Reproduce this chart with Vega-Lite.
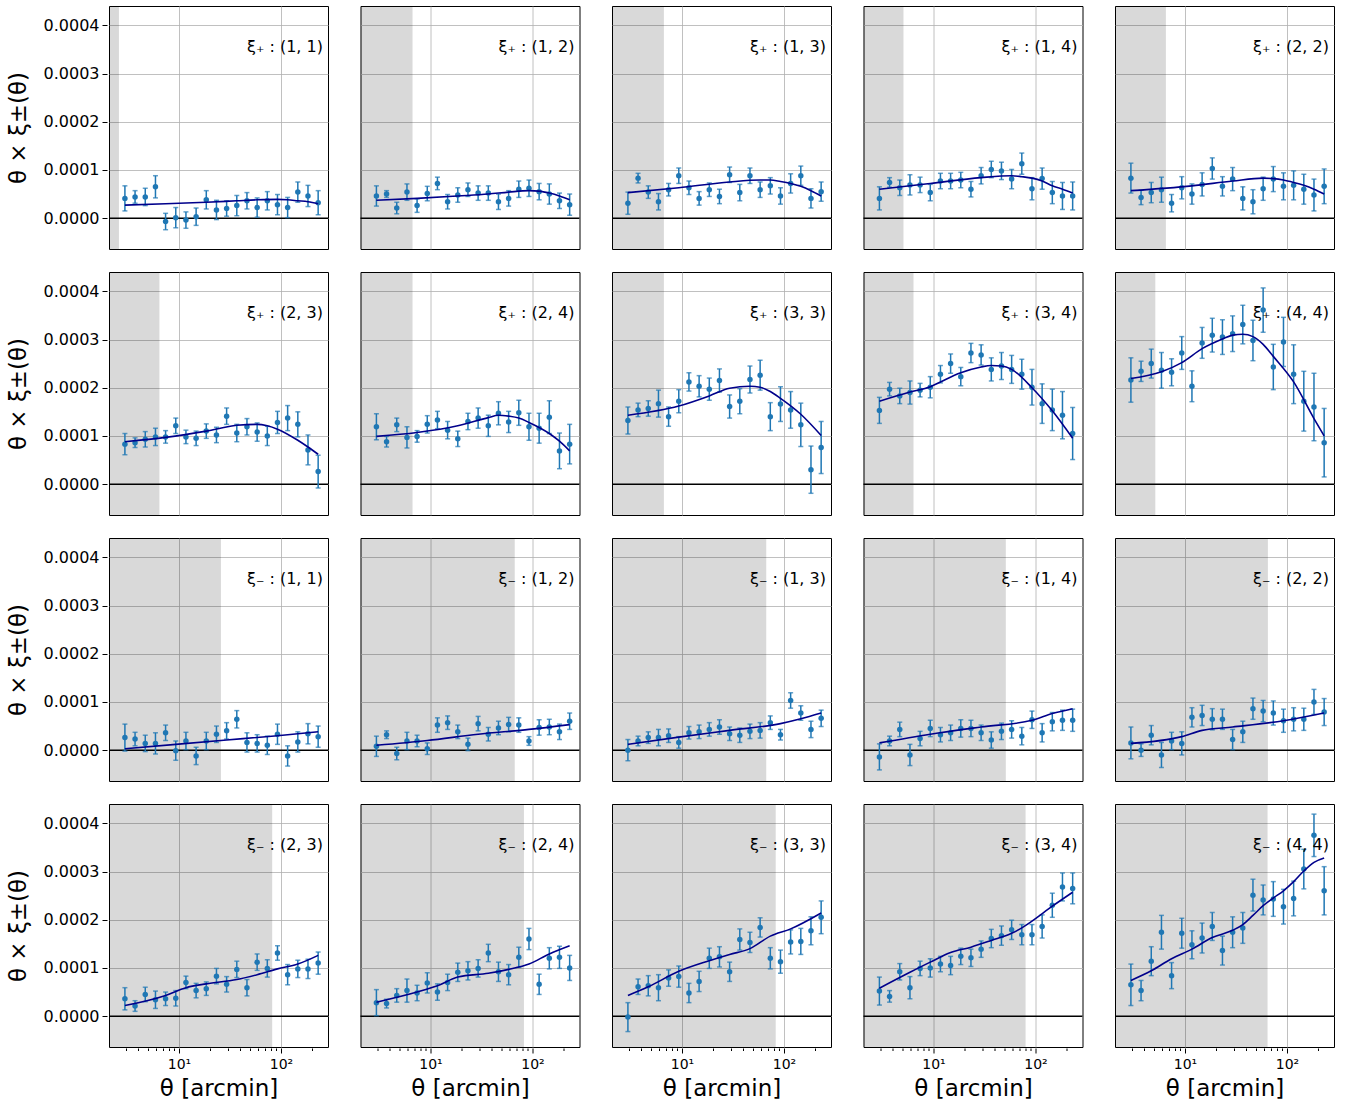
{
"$schema":"https://vega.github.io/schema/vega-lite/v6.json",
"padding":{"left":7,"top":4,"right":5,"bottom":5},
"background":"white",
"data":{"values":[
{"p":1,"k":"s","sx":2.58,"t":"ξ₊ : (1, 1)"},
{"p":2,"k":"s","sx":6.67,"t":"ξ₊ : (1, 2)"},
{"p":3,"k":"s","sx":6.65,"t":"ξ₊ : (1, 3)"},
{"p":4,"k":"s","sx":5.08,"t":"ξ₊ : (1, 4)"},
{"p":5,"k":"s","sx":6.5,"t":"ξ₊ : (2, 2)"},
{"p":6,"k":"s","sx":6.43,"t":"ξ₊ : (2, 3)"},
{"p":7,"k":"s","sx":6.67,"t":"ξ₊ : (2, 4)"},
{"p":8,"k":"s","sx":6.65,"t":"ξ₊ : (3, 3)"},
{"p":9,"k":"s","sx":6.37,"t":"ξ₊ : (3, 4)"},
{"p":10,"k":"s","sx":5.12,"t":"ξ₊ : (4, 4)"},
{"p":11,"k":"s","sx":25.8,"t":"ξ₋ : (1, 1)"},
{"p":12,"k":"s","sx":67,"t":"ξ₋ : (1, 2)"},
{"p":13,"k":"s","sx":67,"t":"ξ₋ : (1, 3)"},
{"p":14,"k":"s","sx":51.2,"t":"ξ₋ : (1, 4)"},
{"p":15,"k":"s","sx":65,"t":"ξ₋ : (2, 2)"},
{"p":16,"k":"s","sx":82,"t":"ξ₋ : (2, 3)"},
{"p":17,"k":"s","sx":82.5,"t":"ξ₋ : (2, 4)"},
{"p":18,"k":"s","sx":83,"t":"ξ₋ : (3, 3)"},
{"p":19,"k":"s","sx":80,"t":"ξ₋ : (3, 4)"},
{"p":20,"k":"s","sx":64.5,"t":"ξ₋ : (4, 4)"},

{"p":1,"k":"d","x":2.95,"y":4.1e-5,"e":2.6e-5},{"p":1,"k":"d","x":3.71,"y":4.4e-5,"e":1.3e-5},{"p":1,"k":"d","x":4.67,"y":4.4e-5,"e":1.8e-5},{"p":1,"k":"d","x":5.88,"y":6.5e-5,"e":2.3e-5},{"p":1,"k":"d","x":7.39,"y":-0.7e-5,"e":1.7e-5},{"p":1,"k":"d","x":9.3,"y":0.1e-5,"e":2.1e-5},{"p":1,"k":"d","x":11.7,"y":-0.4e-5,"e":1.7e-5},{"p":1,"k":"d","x":14.72,"y":0.3e-5,"e":1.8e-5},{"p":1,"k":"d","x":18.52,"y":3.8e-5,"e":1.9e-5},{"p":1,"k":"d","x":23.3,"y":1.7e-5,"e":2.0e-5},{"p":1,"k":"d","x":29.31,"y":2.0e-5,"e":1.6e-5},{"p":1,"k":"d","x":36.88,"y":2.6e-5,"e":2.1e-5},{"p":1,"k":"d","x":46.39,"y":3.6e-5,"e":1.7e-5},{"p":1,"k":"d","x":58.37,"y":2.2e-5,"e":2.0e-5},{"p":1,"k":"d","x":73.43,"y":3.6e-5,"e":1.9e-5},{"p":1,"k":"d","x":92.38,"y":2.8e-5,"e":2.1e-5},{"p":1,"k":"d","x":116.2,"y":2.2e-5,"e":2.1e-5},{"p":1,"k":"d","x":146.2,"y":5.4e-5,"e":2.1e-5},{"p":1,"k":"d","x":183.9,"y":4.6e-5,"e":2.2e-5},{"p":1,"k":"d","x":231.4,"y":3.2e-5,"e":2.5e-5},
{"p":2,"k":"d","x":2.95,"y":4.6e-5,"e":2.1e-5},{"p":2,"k":"d","x":3.71,"y":5.0e-5,"e":0.7e-5},{"p":2,"k":"d","x":4.67,"y":2.1e-5,"e":1.2e-5},{"p":2,"k":"d","x":5.88,"y":5.4e-5,"e":1.7e-5},{"p":2,"k":"d","x":7.39,"y":2.6e-5,"e":1.4e-5},{"p":2,"k":"d","x":9.3,"y":5.1e-5,"e":1.5e-5},{"p":2,"k":"d","x":11.7,"y":7.2e-5,"e":1.3e-5},{"p":2,"k":"d","x":14.72,"y":3.4e-5,"e":1.5e-5},{"p":2,"k":"d","x":18.52,"y":4.8e-5,"e":1.5e-5},{"p":2,"k":"d","x":23.3,"y":5.9e-5,"e":1.4e-5},{"p":2,"k":"d","x":29.31,"y":5.2e-5,"e":1.5e-5},{"p":2,"k":"d","x":36.88,"y":5.2e-5,"e":1.5e-5},{"p":2,"k":"d","x":46.39,"y":3.4e-5,"e":1.6e-5},{"p":2,"k":"d","x":58.37,"y":4.1e-5,"e":1.6e-5},{"p":2,"k":"d","x":73.43,"y":6.0e-5,"e":1.7e-5},{"p":2,"k":"d","x":92.38,"y":6.2e-5,"e":1.7e-5},{"p":2,"k":"d","x":116.2,"y":5.5e-5,"e":1.7e-5},{"p":2,"k":"d","x":146.2,"y":5.0e-5,"e":2.1e-5},{"p":2,"k":"d","x":183.9,"y":3.6e-5,"e":1.6e-5},{"p":2,"k":"d","x":231.4,"y":2.8e-5,"e":2.2e-5},
{"p":3,"k":"d","x":2.95,"y":3.1e-5,"e":2.3e-5},{"p":3,"k":"d","x":3.71,"y":8.3e-5,"e":1.0e-5},{"p":3,"k":"d","x":4.67,"y":5.4e-5,"e":1.3e-5},{"p":3,"k":"d","x":5.88,"y":3.4e-5,"e":1.7e-5},{"p":3,"k":"d","x":7.39,"y":5.9e-5,"e":1.3e-5},{"p":3,"k":"d","x":9.3,"y":8.8e-5,"e":1.6e-5},{"p":3,"k":"d","x":11.7,"y":6.3e-5,"e":1.4e-5},{"p":3,"k":"d","x":14.72,"y":4.1e-5,"e":1.4e-5},{"p":3,"k":"d","x":18.52,"y":5.9e-5,"e":1.4e-5},{"p":3,"k":"d","x":23.3,"y":4.5e-5,"e":1.5e-5},{"p":3,"k":"d","x":29.31,"y":9.0e-5,"e":1.6e-5},{"p":3,"k":"d","x":36.88,"y":5.3e-5,"e":1.7e-5},{"p":3,"k":"d","x":46.39,"y":8.8e-5,"e":1.6e-5},{"p":3,"k":"d","x":58.37,"y":5.9e-5,"e":1.6e-5},{"p":3,"k":"d","x":73.43,"y":6.7e-5,"e":1.7e-5},{"p":3,"k":"d","x":92.38,"y":4.6e-5,"e":1.7e-5},{"p":3,"k":"d","x":116.2,"y":7.2e-5,"e":2.0e-5},{"p":3,"k":"d","x":146.2,"y":8.8e-5,"e":2.0e-5},{"p":3,"k":"d","x":183.9,"y":4.1e-5,"e":2.0e-5},{"p":3,"k":"d","x":231.4,"y":5.5e-5,"e":2.0e-5},
{"p":4,"k":"d","x":2.95,"y":4.1e-5,"e":2.4e-5},{"p":4,"k":"d","x":3.71,"y":7.4e-5,"e":1.0e-5},{"p":4,"k":"d","x":4.67,"y":6.3e-5,"e":1.6e-5},{"p":4,"k":"d","x":5.88,"y":6.9e-5,"e":2.1e-5},{"p":4,"k":"d","x":7.39,"y":6.9e-5,"e":1.6e-5},{"p":4,"k":"d","x":9.3,"y":5.3e-5,"e":1.7e-5},{"p":4,"k":"d","x":11.7,"y":7.7e-5,"e":1.6e-5},{"p":4,"k":"d","x":14.72,"y":7.7e-5,"e":1.6e-5},{"p":4,"k":"d","x":18.52,"y":7.9e-5,"e":1.6e-5},{"p":4,"k":"d","x":23.3,"y":6.0e-5,"e":1.6e-5},{"p":4,"k":"d","x":29.31,"y":8.8e-5,"e":1.7e-5},{"p":4,"k":"d","x":36.88,"y":10.1e-5,"e":1.7e-5},{"p":4,"k":"d","x":46.39,"y":9.8e-5,"e":1.8e-5},{"p":4,"k":"d","x":58.37,"y":8.1e-5,"e":2.0e-5},{"p":4,"k":"d","x":73.43,"y":11.3e-5,"e":2.2e-5},{"p":4,"k":"d","x":92.38,"y":6.1e-5,"e":2.3e-5},{"p":4,"k":"d","x":116.2,"y":8.2e-5,"e":2.2e-5},{"p":4,"k":"d","x":146.2,"y":5.3e-5,"e":2.3e-5},{"p":4,"k":"d","x":183.9,"y":4.6e-5,"e":2.8e-5},{"p":4,"k":"d","x":231.4,"y":4.6e-5,"e":2.9e-5},
{"p":5,"k":"d","x":2.95,"y":8.3e-5,"e":3.1e-5},{"p":5,"k":"d","x":3.71,"y":4.3e-5,"e":1.5e-5},{"p":5,"k":"d","x":4.67,"y":5.3e-5,"e":2.1e-5},{"p":5,"k":"d","x":5.88,"y":5.9e-5,"e":2.6e-5},{"p":5,"k":"d","x":7.39,"y":3.1e-5,"e":1.8e-5},{"p":5,"k":"d","x":9.3,"y":6.3e-5,"e":2.3e-5},{"p":5,"k":"d","x":11.7,"y":5.0e-5,"e":2.1e-5},{"p":5,"k":"d","x":14.72,"y":7.0e-5,"e":2.4e-5},{"p":5,"k":"d","x":18.52,"y":10.3e-5,"e":2.2e-5},{"p":5,"k":"d","x":23.3,"y":6.6e-5,"e":2.0e-5},{"p":5,"k":"d","x":29.31,"y":8.1e-5,"e":2.4e-5},{"p":5,"k":"d","x":36.88,"y":4.1e-5,"e":2.4e-5},{"p":5,"k":"d","x":46.39,"y":3.4e-5,"e":2.5e-5},{"p":5,"k":"d","x":58.37,"y":6.1e-5,"e":2.4e-5},{"p":5,"k":"d","x":73.43,"y":8.1e-5,"e":2.6e-5},{"p":5,"k":"d","x":92.38,"y":6.6e-5,"e":2.8e-5},{"p":5,"k":"d","x":116.2,"y":6.8e-5,"e":3.0e-5},{"p":5,"k":"d","x":146.2,"y":6.0e-5,"e":3.1e-5},{"p":5,"k":"d","x":183.9,"y":4.8e-5,"e":3.3e-5},{"p":5,"k":"d","x":231.4,"y":6.6e-5,"e":3.6e-5},
{"p":6,"k":"d","x":2.95,"y":8.3e-5,"e":2.2e-5},{"p":6,"k":"d","x":3.71,"y":8.6e-5,"e":1.0e-5},{"p":6,"k":"d","x":4.67,"y":9.3e-5,"e":1.6e-5},{"p":6,"k":"d","x":5.88,"y":9.8e-5,"e":1.8e-5},{"p":6,"k":"d","x":7.39,"y":9.8e-5,"e":1.3e-5},{"p":6,"k":"d","x":9.3,"y":12.1e-5,"e":1.6e-5},{"p":6,"k":"d","x":11.7,"y":9.8e-5,"e":1.4e-5},{"p":6,"k":"d","x":14.72,"y":9.5e-5,"e":1.5e-5},{"p":6,"k":"d","x":18.52,"y":11.0e-5,"e":1.5e-5},{"p":6,"k":"d","x":23.3,"y":10.2e-5,"e":1.6e-5},{"p":6,"k":"d","x":29.31,"y":14.1e-5,"e":1.7e-5},{"p":6,"k":"d","x":36.88,"y":10.6e-5,"e":1.8e-5},{"p":6,"k":"d","x":46.39,"y":11.9e-5,"e":1.7e-5},{"p":6,"k":"d","x":58.37,"y":10.8e-5,"e":1.9e-5},{"p":6,"k":"d","x":73.43,"y":10.0e-5,"e":2.0e-5},{"p":6,"k":"d","x":92.38,"y":12.8e-5,"e":2.3e-5},{"p":6,"k":"d","x":116.2,"y":13.7e-5,"e":2.6e-5},{"p":6,"k":"d","x":146.2,"y":12.4e-5,"e":2.6e-5},{"p":6,"k":"d","x":183.9,"y":7.1e-5,"e":3.1e-5},{"p":6,"k":"d","x":231.4,"y":2.6e-5,"e":3.4e-5},
{"p":7,"k":"d","x":2.95,"y":11.9e-5,"e":2.7e-5},{"p":7,"k":"d","x":3.71,"y":8.8e-5,"e":1.1e-5},{"p":7,"k":"d","x":4.67,"y":12.3e-5,"e":1.4e-5},{"p":7,"k":"d","x":5.88,"y":9.7e-5,"e":2.2e-5},{"p":7,"k":"d","x":7.39,"y":9.9e-5,"e":1.2e-5},{"p":7,"k":"d","x":9.3,"y":12.4e-5,"e":1.8e-5},{"p":7,"k":"d","x":11.7,"y":13.3e-5,"e":1.8e-5},{"p":7,"k":"d","x":14.72,"y":11.2e-5,"e":1.8e-5},{"p":7,"k":"d","x":18.52,"y":9.4e-5,"e":1.6e-5},{"p":7,"k":"d","x":23.3,"y":13.0e-5,"e":1.7e-5},{"p":7,"k":"d","x":29.31,"y":13.7e-5,"e":2.1e-5},{"p":7,"k":"d","x":36.88,"y":12.1e-5,"e":2.2e-5},{"p":7,"k":"d","x":46.39,"y":14.7e-5,"e":2.4e-5},{"p":7,"k":"d","x":58.37,"y":12.9e-5,"e":2.2e-5},{"p":7,"k":"d","x":73.43,"y":14.8e-5,"e":2.6e-5},{"p":7,"k":"d","x":92.38,"y":11.9e-5,"e":2.8e-5},{"p":7,"k":"d","x":116.2,"y":11.6e-5,"e":3.1e-5},{"p":7,"k":"d","x":146.2,"y":13.9e-5,"e":3.4e-5},{"p":7,"k":"d","x":183.9,"y":6.9e-5,"e":3.7e-5},{"p":7,"k":"d","x":231.4,"y":8.3e-5,"e":4.1e-5},
{"p":8,"k":"d","x":2.95,"y":13.2e-5,"e":2.8e-5},{"p":8,"k":"d","x":3.71,"y":15.4e-5,"e":1.4e-5},{"p":8,"k":"d","x":4.67,"y":15.7e-5,"e":1.6e-5},{"p":8,"k":"d","x":5.88,"y":16.7e-5,"e":2.8e-5},{"p":8,"k":"d","x":7.39,"y":14.0e-5,"e":2.0e-5},{"p":8,"k":"d","x":9.3,"y":17.2e-5,"e":2.4e-5},{"p":8,"k":"d","x":11.7,"y":21.2e-5,"e":1.9e-5},{"p":8,"k":"d","x":14.72,"y":20.3e-5,"e":2.2e-5},{"p":8,"k":"d","x":18.52,"y":19.7e-5,"e":2.3e-5},{"p":8,"k":"d","x":23.3,"y":21.5e-5,"e":2.4e-5},{"p":8,"k":"d","x":29.31,"y":16.1e-5,"e":2.4e-5},{"p":8,"k":"d","x":36.88,"y":17.2e-5,"e":2.6e-5},{"p":8,"k":"d","x":46.39,"y":21.7e-5,"e":2.8e-5},{"p":8,"k":"d","x":58.37,"y":22.6e-5,"e":3.1e-5},{"p":8,"k":"d","x":73.43,"y":14.0e-5,"e":2.9e-5},{"p":8,"k":"d","x":92.38,"y":16.6e-5,"e":3.6e-5},{"p":8,"k":"d","x":116.2,"y":15.4e-5,"e":3.8e-5},{"p":8,"k":"d","x":146.2,"y":12.3e-5,"e":4.5e-5},{"p":8,"k":"d","x":183.9,"y":3.0e-5,"e":4.9e-5},{"p":8,"k":"d","x":231.4,"y":7.6e-5,"e":5.4e-5},
{"p":9,"k":"d","x":2.95,"y":15.3e-5,"e":2.7e-5},{"p":9,"k":"d","x":3.71,"y":19.7e-5,"e":1.4e-5},{"p":9,"k":"d","x":4.67,"y":18.3e-5,"e":1.6e-5},{"p":9,"k":"d","x":5.88,"y":19.0e-5,"e":2.4e-5},{"p":9,"k":"d","x":7.39,"y":19.5e-5,"e":1.4e-5},{"p":9,"k":"d","x":9.3,"y":20.1e-5,"e":2.2e-5},{"p":9,"k":"d","x":11.7,"y":22.8e-5,"e":1.8e-5},{"p":9,"k":"d","x":14.72,"y":25.0e-5,"e":2.0e-5},{"p":9,"k":"d","x":18.52,"y":22.3e-5,"e":1.9e-5},{"p":9,"k":"d","x":23.3,"y":27.2e-5,"e":2.0e-5},{"p":9,"k":"d","x":29.31,"y":26.8e-5,"e":2.1e-5},{"p":9,"k":"d","x":36.88,"y":23.8e-5,"e":2.4e-5},{"p":9,"k":"d","x":46.39,"y":24.5e-5,"e":2.8e-5},{"p":9,"k":"d","x":58.37,"y":23.8e-5,"e":2.9e-5},{"p":9,"k":"d","x":73.43,"y":22.8e-5,"e":3.1e-5},{"p":9,"k":"d","x":92.38,"y":20.1e-5,"e":3.7e-5},{"p":9,"k":"d","x":116.2,"y":16.7e-5,"e":4.1e-5},{"p":9,"k":"d","x":146.2,"y":15.4e-5,"e":4.3e-5},{"p":9,"k":"d","x":183.9,"y":14.3e-5,"e":4.9e-5},{"p":9,"k":"d","x":231.4,"y":10.5e-5,"e":5.4e-5},
{"p":10,"k":"d","x":2.95,"y":21.6e-5,"e":4.6e-5},{"p":10,"k":"d","x":3.71,"y":23.4e-5,"e":2.1e-5},{"p":10,"k":"d","x":4.67,"y":25.0e-5,"e":3.0e-5},{"p":10,"k":"d","x":5.88,"y":23.6e-5,"e":3.7e-5},{"p":10,"k":"d","x":7.39,"y":23.2e-5,"e":2.8e-5},{"p":10,"k":"d","x":9.3,"y":27.2e-5,"e":3.4e-5},{"p":10,"k":"d","x":11.7,"y":20.3e-5,"e":3.2e-5},{"p":10,"k":"d","x":14.72,"y":29.3e-5,"e":3.2e-5},{"p":10,"k":"d","x":18.52,"y":30.9e-5,"e":3.5e-5},{"p":10,"k":"d","x":23.3,"y":30.5e-5,"e":3.6e-5},{"p":10,"k":"d","x":29.31,"y":31.2e-5,"e":3.7e-5},{"p":10,"k":"d","x":36.88,"y":33.1e-5,"e":4.0e-5},{"p":10,"k":"d","x":46.39,"y":29.8e-5,"e":4.2e-5},{"p":10,"k":"d","x":58.37,"y":36.1e-5,"e":4.6e-5},{"p":10,"k":"d","x":73.43,"y":24.3e-5,"e":4.7e-5},{"p":10,"k":"d","x":92.38,"y":29.5e-5,"e":5.1e-5},{"p":10,"k":"d","x":116.2,"y":22.8e-5,"e":6.1e-5},{"p":10,"k":"d","x":146.2,"y":17.2e-5,"e":6.2e-5},{"p":10,"k":"d","x":183.9,"y":16.0e-5,"e":7.0e-5},{"p":10,"k":"d","x":231.4,"y":8.6e-5,"e":7.1e-5},
{"p":11,"k":"d","x":2.95,"y":2.6e-5,"e":2.8e-5},{"p":11,"k":"d","x":3.71,"y":2.3e-5,"e":1.4e-5},{"p":11,"k":"d","x":4.67,"y":1.4e-5,"e":1.7e-5},{"p":11,"k":"d","x":5.88,"y":1.4e-5,"e":2.2e-5},{"p":11,"k":"d","x":7.39,"y":3.6e-5,"e":1.6e-5},{"p":11,"k":"d","x":9.3,"y":-0.1e-5,"e":2.0e-5},{"p":11,"k":"d","x":11.7,"y":1.9e-5,"e":1.8e-5},{"p":11,"k":"d","x":14.72,"y":-1.2e-5,"e":1.8e-5},{"p":11,"k":"d","x":18.52,"y":1.9e-5,"e":1.8e-5},{"p":11,"k":"d","x":23.3,"y":3.3e-5,"e":1.7e-5},{"p":11,"k":"d","x":29.31,"y":4.0e-5,"e":1.7e-5},{"p":11,"k":"d","x":36.88,"y":6.4e-5,"e":1.8e-5},{"p":11,"k":"d","x":46.39,"y":1.6e-5,"e":2.0e-5},{"p":11,"k":"d","x":58.37,"y":1.4e-5,"e":1.8e-5},{"p":11,"k":"d","x":73.43,"y":1.0e-5,"e":1.9e-5},{"p":11,"k":"d","x":92.38,"y":3.3e-5,"e":2.1e-5},{"p":11,"k":"d","x":116.2,"y":-1.2e-5,"e":2.1e-5},{"p":11,"k":"d","x":146.2,"y":1.7e-5,"e":2.1e-5},{"p":11,"k":"d","x":183.9,"y":3.4e-5,"e":2.1e-5},{"p":11,"k":"d","x":231.4,"y":2.8e-5,"e":2.2e-5},
{"p":12,"k":"d","x":2.95,"y":0.8e-5,"e":2.1e-5},{"p":12,"k":"d","x":3.71,"y":3.2e-5,"e":0.8e-5},{"p":12,"k":"d","x":4.67,"y":-0.7e-5,"e":1.3e-5},{"p":12,"k":"d","x":5.88,"y":1.9e-5,"e":1.8e-5},{"p":12,"k":"d","x":7.39,"y":1.9e-5,"e":1.2e-5},{"p":12,"k":"d","x":9.3,"y":0.3e-5,"e":1.2e-5},{"p":12,"k":"d","x":11.7,"y":5.2e-5,"e":1.5e-5},{"p":12,"k":"d","x":14.72,"y":5.7e-5,"e":1.4e-5},{"p":12,"k":"d","x":18.52,"y":3.8e-5,"e":1.4e-5},{"p":12,"k":"d","x":23.3,"y":1.2e-5,"e":1.3e-5},{"p":12,"k":"d","x":29.31,"y":5.5e-5,"e":1.5e-5},{"p":12,"k":"d","x":36.88,"y":3.3e-5,"e":1.4e-5},{"p":12,"k":"d","x":46.39,"y":4.6e-5,"e":1.4e-5},{"p":12,"k":"d","x":58.37,"y":5.3e-5,"e":1.5e-5},{"p":12,"k":"d","x":73.43,"y":5.2e-5,"e":1.5e-5},{"p":12,"k":"d","x":92.38,"y":1.9e-5,"e":0.9e-5},{"p":12,"k":"d","x":116.2,"y":4.7e-5,"e":1.6e-5},{"p":12,"k":"d","x":146.2,"y":4.8e-5,"e":1.6e-5},{"p":12,"k":"d","x":183.9,"y":3.8e-5,"e":1.6e-5},{"p":12,"k":"d","x":231.4,"y":6.0e-5,"e":1.7e-5},
{"p":13,"k":"d","x":2.95,"y":0,"e":2.2e-5},{"p":13,"k":"d","x":3.71,"y":1.9e-5,"e":1.0e-5},{"p":13,"k":"d","x":4.67,"y":2.6e-5,"e":1.2e-5},{"p":13,"k":"d","x":5.88,"y":2.6e-5,"e":1.7e-5},{"p":13,"k":"d","x":7.39,"y":3.0e-5,"e":1.4e-5},{"p":13,"k":"d","x":9.3,"y":1.6e-5,"e":1.2e-5},{"p":13,"k":"d","x":11.7,"y":3.6e-5,"e":1.3e-5},{"p":13,"k":"d","x":14.72,"y":3.8e-5,"e":1.4e-5},{"p":13,"k":"d","x":18.52,"y":4.3e-5,"e":1.4e-5},{"p":13,"k":"d","x":23.3,"y":4.8e-5,"e":1.5e-5},{"p":13,"k":"d","x":29.31,"y":3.4e-5,"e":1.4e-5},{"p":13,"k":"d","x":36.88,"y":3.1e-5,"e":1.5e-5},{"p":13,"k":"d","x":46.39,"y":3.9e-5,"e":1.5e-5},{"p":13,"k":"d","x":58.37,"y":4.1e-5,"e":1.6e-5},{"p":13,"k":"d","x":73.43,"y":5.7e-5,"e":1.4e-5},{"p":13,"k":"d","x":92.38,"y":3.2e-5,"e":1.1e-5},{"p":13,"k":"d","x":116.2,"y":10.3e-5,"e":1.6e-5},{"p":13,"k":"d","x":146.2,"y":7.7e-5,"e":1.5e-5},{"p":13,"k":"d","x":183.9,"y":4.3e-5,"e":1.7e-5},{"p":13,"k":"d","x":231.4,"y":6.6e-5,"e":1.7e-5},
{"p":14,"k":"d","x":2.95,"y":-1.4e-5,"e":2.7e-5},{"p":14,"k":"d","x":3.71,"y":1.9e-5,"e":1.0e-5},{"p":14,"k":"d","x":4.67,"y":4.3e-5,"e":1.5e-5},{"p":14,"k":"d","x":5.88,"y":-1.0e-5,"e":2.2e-5},{"p":14,"k":"d","x":7.39,"y":2.4e-5,"e":1.5e-5},{"p":14,"k":"d","x":9.3,"y":4.5e-5,"e":1.7e-5},{"p":14,"k":"d","x":11.7,"y":3.2e-5,"e":1.5e-5},{"p":14,"k":"d","x":14.72,"y":3.6e-5,"e":1.6e-5},{"p":14,"k":"d","x":18.52,"y":4.5e-5,"e":1.8e-5},{"p":14,"k":"d","x":23.3,"y":4.5e-5,"e":1.7e-5},{"p":14,"k":"d","x":29.31,"y":3.6e-5,"e":1.6e-5},{"p":14,"k":"d","x":36.88,"y":2.1e-5,"e":1.7e-5},{"p":14,"k":"d","x":46.39,"y":3.9e-5,"e":1.7e-5},{"p":14,"k":"d","x":58.37,"y":4.3e-5,"e":1.8e-5},{"p":14,"k":"d","x":73.43,"y":2.9e-5,"e":1.8e-5},{"p":14,"k":"d","x":92.38,"y":6.3e-5,"e":1.8e-5},{"p":14,"k":"d","x":116.2,"y":3.6e-5,"e":1.9e-5},{"p":14,"k":"d","x":146.2,"y":5.9e-5,"e":1.9e-5},{"p":14,"k":"d","x":183.9,"y":6.2e-5,"e":2.1e-5},{"p":14,"k":"d","x":231.4,"y":6.2e-5,"e":2.3e-5},
{"p":15,"k":"d","x":2.95,"y":1.5e-5,"e":3.3e-5},{"p":15,"k":"d","x":3.71,"y":0,"e":1.3e-5},{"p":15,"k":"d","x":4.67,"y":3.1e-5,"e":2.0e-5},{"p":15,"k":"d","x":5.88,"y":-1.0e-5,"e":2.6e-5},{"p":15,"k":"d","x":7.39,"y":1.9e-5,"e":1.8e-5},{"p":15,"k":"d","x":9.3,"y":1.4e-5,"e":2.4e-5},{"p":15,"k":"d","x":11.7,"y":6.8e-5,"e":2.0e-5},{"p":15,"k":"d","x":14.72,"y":7.2e-5,"e":2.1e-5},{"p":15,"k":"d","x":18.52,"y":6.4e-5,"e":2.2e-5},{"p":15,"k":"d","x":23.3,"y":6.4e-5,"e":2.1e-5},{"p":15,"k":"d","x":29.31,"y":2.2e-5,"e":2.1e-5},{"p":15,"k":"d","x":36.88,"y":3.8e-5,"e":2.2e-5},{"p":15,"k":"d","x":46.39,"y":8.6e-5,"e":2.2e-5},{"p":15,"k":"d","x":58.37,"y":8.1e-5,"e":2.2e-5},{"p":15,"k":"d","x":73.43,"y":7.7e-5,"e":2.5e-5},{"p":15,"k":"d","x":92.38,"y":6.1e-5,"e":2.4e-5},{"p":15,"k":"d","x":116.2,"y":6.4e-5,"e":2.4e-5},{"p":15,"k":"d","x":146.2,"y":6.4e-5,"e":2.3e-5},{"p":15,"k":"d","x":183.9,"y":10.0e-5,"e":2.6e-5},{"p":15,"k":"d","x":231.4,"y":7.9e-5,"e":2.8e-5},
{"p":16,"k":"d","x":2.95,"y":3.6e-5,"e":2.3e-5},{"p":16,"k":"d","x":3.71,"y":2.1e-5,"e":1.1e-5},{"p":16,"k":"d","x":4.67,"y":4.5e-5,"e":1.5e-5},{"p":16,"k":"d","x":5.88,"y":3.4e-5,"e":1.8e-5},{"p":16,"k":"d","x":7.39,"y":3.6e-5,"e":1.4e-5},{"p":16,"k":"d","x":9.3,"y":3.7e-5,"e":1.6e-5},{"p":16,"k":"d","x":11.7,"y":7.0e-5,"e":1.3e-5},{"p":16,"k":"d","x":14.72,"y":5.3e-5,"e":1.5e-5},{"p":16,"k":"d","x":18.52,"y":5.7e-5,"e":1.4e-5},{"p":16,"k":"d","x":23.3,"y":8.3e-5,"e":1.6e-5},{"p":16,"k":"d","x":29.31,"y":6.6e-5,"e":1.6e-5},{"p":16,"k":"d","x":36.88,"y":9.7e-5,"e":1.7e-5},{"p":16,"k":"d","x":46.39,"y":5.9e-5,"e":1.7e-5},{"p":16,"k":"d","x":58.37,"y":11.2e-5,"e":1.7e-5},{"p":16,"k":"d","x":73.43,"y":9.9e-5,"e":1.8e-5},{"p":16,"k":"d","x":92.38,"y":13.1e-5,"e":1.5e-5},{"p":16,"k":"d","x":116.2,"y":8.6e-5,"e":2.1e-5},{"p":16,"k":"d","x":146.2,"y":9.8e-5,"e":1.8e-5},{"p":16,"k":"d","x":183.9,"y":9.8e-5,"e":2.0e-5},{"p":16,"k":"d","x":231.4,"y":11.0e-5,"e":2.3e-5},
{"p":17,"k":"d","x":2.95,"y":2.8e-5,"e":2.7e-5},{"p":17,"k":"d","x":3.71,"y":2.6e-5,"e":0.9e-5},{"p":17,"k":"d","x":4.67,"y":4.3e-5,"e":1.4e-5},{"p":17,"k":"d","x":5.88,"y":5.3e-5,"e":2.4e-5},{"p":17,"k":"d","x":7.39,"y":4.8e-5,"e":1.6e-5},{"p":17,"k":"d","x":9.3,"y":6.9e-5,"e":2.1e-5},{"p":17,"k":"d","x":11.7,"y":5.0e-5,"e":1.7e-5},{"p":17,"k":"d","x":14.72,"y":7.0e-5,"e":1.7e-5},{"p":17,"k":"d","x":18.52,"y":9.1e-5,"e":1.9e-5},{"p":17,"k":"d","x":23.3,"y":9.4e-5,"e":1.9e-5},{"p":17,"k":"d","x":29.31,"y":9.9e-5,"e":1.8e-5},{"p":17,"k":"d","x":36.88,"y":13.1e-5,"e":1.8e-5},{"p":17,"k":"d","x":46.39,"y":9.2e-5,"e":2.0e-5},{"p":17,"k":"d","x":58.37,"y":8.6e-5,"e":2.1e-5},{"p":17,"k":"d","x":73.43,"y":12.2e-5,"e":2.1e-5},{"p":17,"k":"d","x":92.38,"y":16.0e-5,"e":2.2e-5},{"p":17,"k":"d","x":116.2,"y":6.6e-5,"e":2.1e-5},{"p":17,"k":"d","x":146.2,"y":12.0e-5,"e":2.2e-5},{"p":17,"k":"d","x":183.9,"y":12.2e-5,"e":2.3e-5},{"p":17,"k":"d","x":231.4,"y":10.0e-5,"e":2.6e-5},
{"p":18,"k":"d","x":2.95,"y":-0.2e-5,"e":3.0e-5},{"p":18,"k":"d","x":3.71,"y":6.1e-5,"e":1.6e-5},{"p":18,"k":"d","x":4.67,"y":6.3e-5,"e":2.1e-5},{"p":18,"k":"d","x":5.88,"y":5.9e-5,"e":2.7e-5},{"p":18,"k":"d","x":7.39,"y":7.9e-5,"e":1.7e-5},{"p":18,"k":"d","x":9.3,"y":8.2e-5,"e":2.2e-5},{"p":18,"k":"d","x":11.7,"y":4.8e-5,"e":2.0e-5},{"p":18,"k":"d","x":14.72,"y":7.2e-5,"e":2.1e-5},{"p":18,"k":"d","x":18.52,"y":12.0e-5,"e":2.1e-5},{"p":18,"k":"d","x":23.3,"y":12.3e-5,"e":2.1e-5},{"p":18,"k":"d","x":29.31,"y":9.2e-5,"e":2.0e-5},{"p":18,"k":"d","x":36.88,"y":15.9e-5,"e":2.2e-5},{"p":18,"k":"d","x":46.39,"y":15.3e-5,"e":2.1e-5},{"p":18,"k":"d","x":58.37,"y":18.4e-5,"e":2.0e-5},{"p":18,"k":"d","x":73.43,"y":12.0e-5,"e":2.2e-5},{"p":18,"k":"d","x":92.38,"y":11.3e-5,"e":2.4e-5},{"p":18,"k":"d","x":116.2,"y":15.4e-5,"e":2.5e-5},{"p":18,"k":"d","x":146.2,"y":15.5e-5,"e":2.7e-5},{"p":18,"k":"d","x":183.9,"y":17.7e-5,"e":2.9e-5},{"p":18,"k":"d","x":231.4,"y":20.5e-5,"e":3.4e-5},
{"p":19,"k":"d","x":2.95,"y":5.2e-5,"e":2.9e-5},{"p":19,"k":"d","x":3.71,"y":4.1e-5,"e":1.2e-5},{"p":19,"k":"d","x":4.67,"y":9.2e-5,"e":1.7e-5},{"p":19,"k":"d","x":5.88,"y":5.9e-5,"e":2.3e-5},{"p":19,"k":"d","x":7.39,"y":9.9e-5,"e":1.5e-5},{"p":19,"k":"d","x":9.3,"y":10.0e-5,"e":1.9e-5},{"p":19,"k":"d","x":11.7,"y":10.8e-5,"e":1.6e-5},{"p":19,"k":"d","x":14.72,"y":10.5e-5,"e":1.9e-5},{"p":19,"k":"d","x":18.52,"y":12.4e-5,"e":1.7e-5},{"p":19,"k":"d","x":23.3,"y":12.1e-5,"e":1.8e-5},{"p":19,"k":"d","x":29.31,"y":13.9e-5,"e":1.7e-5},{"p":19,"k":"d","x":36.88,"y":16.1e-5,"e":1.9e-5},{"p":19,"k":"d","x":46.39,"y":16.7e-5,"e":2.0e-5},{"p":19,"k":"d","x":58.37,"y":17.9e-5,"e":2.0e-5},{"p":19,"k":"d","x":73.43,"y":16.9e-5,"e":2.1e-5},{"p":19,"k":"d","x":92.38,"y":16.9e-5,"e":2.1e-5},{"p":19,"k":"d","x":116.2,"y":18.6e-5,"e":2.4e-5},{"p":19,"k":"d","x":146.2,"y":23.0e-5,"e":2.5e-5},{"p":19,"k":"d","x":183.9,"y":26.8e-5,"e":2.9e-5},{"p":19,"k":"d","x":231.4,"y":26.5e-5,"e":3.2e-5},
{"p":20,"k":"d","x":2.95,"y":6.5e-5,"e":4.3e-5},{"p":20,"k":"d","x":3.71,"y":5.3e-5,"e":2.1e-5},{"p":20,"k":"d","x":4.67,"y":11.4e-5,"e":3.0e-5},{"p":20,"k":"d","x":5.88,"y":17.4e-5,"e":3.5e-5},{"p":20,"k":"d","x":7.39,"y":8.4e-5,"e":2.7e-5},{"p":20,"k":"d","x":9.3,"y":17.2e-5,"e":3.1e-5},{"p":20,"k":"d","x":11.7,"y":14.8e-5,"e":2.9e-5},{"p":20,"k":"d","x":14.72,"y":16.2e-5,"e":3.1e-5},{"p":20,"k":"d","x":18.52,"y":18.6e-5,"e":2.9e-5},{"p":20,"k":"d","x":23.3,"y":13.6e-5,"e":3.0e-5},{"p":20,"k":"d","x":29.31,"y":17.4e-5,"e":3.2e-5},{"p":20,"k":"d","x":36.88,"y":18.3e-5,"e":3.2e-5},{"p":20,"k":"d","x":46.39,"y":25.1e-5,"e":3.3e-5},{"p":20,"k":"d","x":58.37,"y":24.1e-5,"e":3.1e-5},{"p":20,"k":"d","x":73.43,"y":24.3e-5,"e":3.6e-5},{"p":20,"k":"d","x":92.38,"y":22.7e-5,"e":3.6e-5},{"p":20,"k":"d","x":116.2,"y":24.4e-5,"e":3.6e-5},{"p":20,"k":"d","x":146.2,"y":30.5e-5,"e":4.1e-5},{"p":20,"k":"d","x":183.9,"y":37.5e-5,"e":4.4e-5},{"p":20,"k":"d","x":231.4,"y":26.0e-5,"e":5.0e-5},

{"p":1,"k":"m","x":2.95,"y":2.7e-5},{"p":1,"k":"m","x":7.39,"y":3.0e-5},{"p":1,"k":"m","x":18.52,"y":3.3e-5},{"p":1,"k":"m","x":36.88,"y":3.6e-5},{"p":1,"k":"m","x":58.37,"y":3.8e-5},{"p":1,"k":"m","x":92.38,"y":3.9e-5},{"p":1,"k":"m","x":116.2,"y":3.8e-5},{"p":1,"k":"m","x":146.2,"y":3.6e-5},{"p":1,"k":"m","x":183.9,"y":3.4e-5},{"p":1,"k":"m","x":231.4,"y":3.0e-5},
{"p":2,"k":"m","x":2.95,"y":3.7e-5},{"p":2,"k":"m","x":7.39,"y":4.1e-5},{"p":2,"k":"m","x":18.52,"y":4.6e-5},{"p":2,"k":"m","x":36.88,"y":5.0e-5},{"p":2,"k":"m","x":58.37,"y":5.4e-5},{"p":2,"k":"m","x":92.38,"y":5.7e-5},{"p":2,"k":"m","x":116.2,"y":5.6e-5},{"p":2,"k":"m","x":146.2,"y":5.2e-5},{"p":2,"k":"m","x":183.9,"y":4.6e-5},{"p":2,"k":"m","x":231.4,"y":3.8e-5},
{"p":3,"k":"m","x":2.95,"y":5.3e-5},{"p":3,"k":"m","x":9.3,"y":6.3e-5},{"p":3,"k":"m","x":29.31,"y":7.5e-5},{"p":3,"k":"m","x":58.37,"y":7.9e-5},{"p":3,"k":"m","x":73.43,"y":7.9e-5},{"p":3,"k":"m","x":92.38,"y":7.6e-5},{"p":3,"k":"m","x":116.2,"y":7.2e-5},{"p":3,"k":"m","x":146.2,"y":6.6e-5},{"p":3,"k":"m","x":183.9,"y":5.7e-5},{"p":3,"k":"m","x":231.4,"y":4.6e-5},
{"p":4,"k":"m","x":2.95,"y":6.0e-5},{"p":4,"k":"m","x":9.3,"y":7.2e-5},{"p":4,"k":"m","x":29.31,"y":8.4e-5},{"p":4,"k":"m","x":58.37,"y":8.8e-5},{"p":4,"k":"m","x":73.43,"y":8.6e-5},{"p":4,"k":"m","x":92.38,"y":8.3e-5},{"p":4,"k":"m","x":116.2,"y":7.7e-5},{"p":4,"k":"m","x":146.2,"y":6.7e-5},{"p":4,"k":"m","x":183.9,"y":6.0e-5},{"p":4,"k":"m","x":231.4,"y":5.2e-5},
{"p":5,"k":"m","x":2.95,"y":5.7e-5},{"p":5,"k":"m","x":11.7,"y":6.7e-5},{"p":5,"k":"m","x":29.31,"y":7.7e-5},{"p":5,"k":"m","x":58.37,"y":8.3e-5},{"p":5,"k":"m","x":73.43,"y":8.2e-5},{"p":5,"k":"m","x":92.38,"y":7.9e-5},{"p":5,"k":"m","x":116.2,"y":7.4e-5},{"p":5,"k":"m","x":146.2,"y":6.8e-5},{"p":5,"k":"m","x":183.9,"y":6.0e-5},{"p":5,"k":"m","x":231.4,"y":5.0e-5},
{"p":6,"k":"m","x":2.95,"y":8.8e-5},{"p":6,"k":"m","x":7.39,"y":9.7e-5},{"p":6,"k":"m","x":18.52,"y":11.0e-5},{"p":6,"k":"m","x":36.88,"y":12.2e-5},{"p":6,"k":"m","x":58.37,"y":12.4e-5},{"p":6,"k":"m","x":73.43,"y":12.1e-5},{"p":6,"k":"m","x":92.38,"y":11.4e-5},{"p":6,"k":"m","x":146.2,"y":9.1e-5},{"p":6,"k":"m","x":183.9,"y":7.7e-5},{"p":6,"k":"m","x":231.4,"y":6.2e-5},
{"p":7,"k":"m","x":2.95,"y":9.9e-5},{"p":7,"k":"m","x":7.39,"y":10.7e-5},{"p":7,"k":"m","x":18.52,"y":12.1e-5},{"p":7,"k":"m","x":36.88,"y":13.8e-5},{"p":7,"k":"m","x":46.39,"y":14.3e-5},{"p":7,"k":"m","x":58.37,"y":14.1e-5},{"p":7,"k":"m","x":73.43,"y":13.7e-5},{"p":7,"k":"m","x":92.38,"y":12.8e-5},{"p":7,"k":"m","x":146.2,"y":10.5e-5},{"p":7,"k":"m","x":183.9,"y":8.9e-5},{"p":7,"k":"m","x":231.4,"y":6.9e-5},
{"p":8,"k":"m","x":2.95,"y":14.3e-5},{"p":8,"k":"m","x":9.3,"y":16.2e-5},{"p":8,"k":"m","x":18.52,"y":18.3e-5},{"p":8,"k":"m","x":29.31,"y":19.9e-5},{"p":8,"k":"m","x":46.39,"y":20.3e-5},{"p":8,"k":"m","x":58.37,"y":20.1e-5},{"p":8,"k":"m","x":73.43,"y":19.2e-5},{"p":8,"k":"m","x":92.38,"y":17.8e-5},{"p":8,"k":"m","x":146.2,"y":14.5e-5},{"p":8,"k":"m","x":231.4,"y":10.1e-5},
{"p":9,"k":"m","x":2.95,"y":17.2e-5},{"p":9,"k":"m","x":5.88,"y":19.1e-5},{"p":9,"k":"m","x":9.3,"y":20.2e-5},{"p":9,"k":"m","x":11.7,"y":21.2e-5},{"p":9,"k":"m","x":18.52,"y":23.1e-5},{"p":9,"k":"m","x":29.31,"y":24.3e-5},{"p":9,"k":"m","x":36.88,"y":24.6e-5},{"p":9,"k":"m","x":46.39,"y":24.5e-5},{"p":9,"k":"m","x":58.37,"y":23.8e-5},{"p":9,"k":"m","x":92.38,"y":20.0e-5},{"p":9,"k":"m","x":146.2,"y":15.2e-5},{"p":9,"k":"m","x":231.4,"y":9.5e-5},
{"p":10,"k":"m","x":2.95,"y":21.9e-5},{"p":10,"k":"m","x":5.88,"y":23.3e-5},{"p":10,"k":"m","x":9.3,"y":25.2e-5},{"p":10,"k":"m","x":14.72,"y":28.1e-5},{"p":10,"k":"m","x":23.3,"y":30.1e-5},{"p":10,"k":"m","x":29.31,"y":30.9e-5},{"p":10,"k":"m","x":36.88,"y":31.1e-5},{"p":10,"k":"m","x":46.39,"y":30.6e-5},{"p":10,"k":"m","x":58.37,"y":29.0e-5},{"p":10,"k":"m","x":73.43,"y":26.5e-5},{"p":10,"k":"m","x":116.2,"y":21.2e-5},{"p":10,"k":"m","x":183.9,"y":13.6e-5},{"p":10,"k":"m","x":231.4,"y":10.0e-5},
{"p":11,"k":"m","x":2.95,"y":0.3e-5},{"p":11,"k":"m","x":9.3,"y":1.2e-5},{"p":11,"k":"m","x":29.31,"y":2.1e-5},{"p":11,"k":"m","x":92.38,"y":3.0e-5},{"p":11,"k":"m","x":231.4,"y":3.8e-5},
{"p":12,"k":"m","x":2.95,"y":1.0e-5},{"p":12,"k":"m","x":9.3,"y":2.0e-5},{"p":12,"k":"m","x":29.31,"y":3.3e-5},{"p":12,"k":"m","x":92.38,"y":4.3e-5},{"p":12,"k":"m","x":231.4,"y":5.3e-5},
{"p":13,"k":"m","x":2.95,"y":1.2e-5},{"p":13,"k":"m","x":9.3,"y":2.7e-5},{"p":13,"k":"m","x":29.31,"y":4.1e-5},{"p":13,"k":"m","x":92.38,"y":5.5e-5},{"p":13,"k":"m","x":146.2,"y":6.5e-5},{"p":13,"k":"m","x":231.4,"y":7.7e-5},
{"p":14,"k":"m","x":2.95,"y":1.5e-5},{"p":14,"k":"m","x":9.3,"y":3.3e-5},{"p":14,"k":"m","x":29.31,"y":4.8e-5},{"p":14,"k":"m","x":92.38,"y":6.2e-5},{"p":14,"k":"m","x":146.2,"y":7.6e-5},{"p":14,"k":"m","x":231.4,"y":8.6e-5},
{"p":15,"k":"m","x":2.95,"y":1.4e-5},{"p":15,"k":"m","x":9.3,"y":2.8e-5},{"p":15,"k":"m","x":14.72,"y":4.1e-5},{"p":15,"k":"m","x":29.31,"y":4.8e-5},{"p":15,"k":"m","x":92.38,"y":6.1e-5},{"p":15,"k":"m","x":231.4,"y":7.7e-5},
{"p":16,"k":"m","x":2.95,"y":2.2e-5},{"p":16,"k":"m","x":7.39,"y":4.3e-5},{"p":16,"k":"m","x":11.7,"y":5.9e-5},{"p":16,"k":"m","x":18.52,"y":6.7e-5},{"p":16,"k":"m","x":36.88,"y":7.6e-5},{"p":16,"k":"m","x":58.37,"y":8.6e-5},{"p":16,"k":"m","x":92.38,"y":9.8e-5},{"p":16,"k":"m","x":146.2,"y":10.8e-5},{"p":16,"k":"m","x":231.4,"y":12.6e-5},
{"p":17,"k":"m","x":2.95,"y":2.9e-5},{"p":17,"k":"m","x":7.39,"y":5.0e-5},{"p":17,"k":"m","x":11.7,"y":6.3e-5},{"p":17,"k":"m","x":18.52,"y":8.1e-5},{"p":17,"k":"m","x":36.88,"y":8.9e-5},{"p":17,"k":"m","x":58.37,"y":9.7e-5},{"p":17,"k":"m","x":92.38,"y":10.8e-5},{"p":17,"k":"m","x":146.2,"y":12.9e-5},{"p":17,"k":"m","x":231.4,"y":14.6e-5},
{"p":18,"k":"m","x":2.95,"y":4.3e-5},{"p":18,"k":"m","x":4.67,"y":6.1e-5},{"p":18,"k":"m","x":9.3,"y":9.3e-5},{"p":18,"k":"m","x":18.52,"y":11.5e-5},{"p":18,"k":"m","x":29.31,"y":12.8e-5},{"p":18,"k":"m","x":46.39,"y":14.0e-5},{"p":18,"k":"m","x":73.43,"y":16.6e-5},{"p":18,"k":"m","x":116.2,"y":18.1e-5},{"p":18,"k":"m","x":231.4,"y":21.4e-5},
{"p":19,"k":"m","x":2.95,"y":5.8e-5},{"p":19,"k":"m","x":5.88,"y":9.1e-5},{"p":19,"k":"m","x":9.3,"y":11.2e-5},{"p":19,"k":"m","x":14.72,"y":13.2e-5},{"p":19,"k":"m","x":23.3,"y":14.3e-5},{"p":19,"k":"m","x":36.88,"y":15.7e-5},{"p":19,"k":"m","x":58.37,"y":17.2e-5},{"p":19,"k":"m","x":73.43,"y":18.3e-5},{"p":19,"k":"m","x":92.38,"y":19.7e-5},{"p":19,"k":"m","x":146.2,"y":22.8e-5},{"p":19,"k":"m","x":231.4,"y":25.7e-5},
{"p":20,"k":"m","x":2.95,"y":7.4e-5},{"p":20,"k":"m","x":4.67,"y":9.4e-5},{"p":20,"k":"m","x":7.39,"y":11.9e-5},{"p":20,"k":"m","x":11.7,"y":13.9e-5},{"p":20,"k":"m","x":18.52,"y":16.3e-5},{"p":20,"k":"m","x":29.31,"y":17.8e-5},{"p":20,"k":"m","x":36.88,"y":19.0e-5},{"p":20,"k":"m","x":46.39,"y":20.9e-5},{"p":20,"k":"m","x":58.37,"y":22.9e-5},{"p":20,"k":"m","x":73.43,"y":24.5e-5},{"p":20,"k":"m","x":92.38,"y":26.0e-5},{"p":20,"k":"m","x":116.2,"y":27.9e-5},{"p":20,"k":"m","x":146.2,"y":30.1e-5},{"p":20,"k":"m","x":183.9,"y":31.9e-5},{"p":20,"k":"m","x":231.4,"y":32.8e-5}
]},
"columns":5,
"facet":{"field":"p","type":"ordinal","title":null,"header":{"labels":false,"labelFontSize":1,"labelColor":"transparent","labelPadding":0}},
"spacing":{"row":20,"column":28.5},
"spec":{
 "width":219,"height":243,
 "layer":[
  {"transform":[{"filter":"datum.k=='s'"}],
   "mark":{"type":"rect","color":"#000000","opacity":0.15},
   "encoding":{
    "x":{"field":"sx","type":"quantitative","title":"θ [arcmin]"},
    "x2":{"datum":2.06}}},
  {"transform":[{"filter":"datum.k=='s'"}],
   "mark":{"type":"rule","color":"black","strokeWidth":1.5},
   "encoding":{
    "y":{"datum":0,"type":"quantitative","title":"θ × ξ±(θ)"}}},
  {"transform":[{"filter":"datum.k=='d'"}],
   "mark":{"type":"errorbar","ticks":true,"thickness":1.5,"color":"#1f77b4"},
   "encoding":{
    "x":{"field":"x","type":"quantitative","title":"θ [arcmin]"},
    "y":{"field":"y","type":"quantitative","title":"θ × ξ±(θ)"},
    "yError":{"field":"e"}}},
  {"transform":[{"filter":"datum.k=='d'"}],
   "mark":{"type":"point","filled":true,"shape":"circle","size":30,"color":"#1f77b4","opacity":1},
   "encoding":{
    "x":{"field":"x","type":"quantitative","title":"θ [arcmin]",
      "scale":{"type":"log","domain":[2.06,289],"nice":false},
      "axis":{"values":[3,4,5,6,7,8,9,10,20,30,40,50,60,70,80,90,100,200],
        "labelExpr":"datum.value==10?'10¹':(datum.value==100?'10²':'')",
        "tickSize":{"condition":{"test":"datum.value==10||datum.value==100","value":5},"value":2.5},
        "grid":true,
        "gridOpacity":{"condition":{"test":"datum.value==10||datum.value==100","value":1},"value":0},
        "labelFontSize":14,"labelOverlap":false,"labelFlush":false}},
    "y":{"field":"y","type":"quantitative","title":"θ × ξ±(θ)",
      "scale":{"domain":[-0.000064,0.00044],"nice":false,"zero":false},
      "axis":{"values":[0,0.0001,0.0002,0.0003,0.0004],"format":".4f","labelFontSize":16,"grid":true}}}},
  {"transform":[{"filter":"datum.k=='m'"}],
   "mark":{"type":"line","color":"#00008b","strokeWidth":1.6,"interpolate":"monotone"},
   "encoding":{
    "x":{"field":"x","type":"quantitative","title":"θ [arcmin]"},
    "y":{"field":"y","type":"quantitative","title":"θ × ξ±(θ)"}}},
  {"transform":[{"filter":"datum.k=='s'"}],
   "mark":{"type":"text","align":"right","baseline":"middle","fontSize":16,"font":"DejaVu Sans","color":"black"},
   "encoding":{
    "x":{"datum":258,"type":"quantitative","title":"θ [arcmin]"},
    "y":{"datum":0.000355,"type":"quantitative","title":"θ × ξ±(θ)"},
    "text":{"field":"t"}}}
 ]
},
"config":{
 "font":"DejaVu Sans",
 "view":{"stroke":"black","strokeWidth":1},
 "header":{"labels":false,"labelPadding":0,"titlePadding":0},
 "headerFacet":{"labels":false,"labelPadding":0,"titlePadding":0},
 "axis":{"domain":false,"tickColor":"black","labelColor":"black","titleColor":"black","gridColor":"#b0b0b0","gridWidth":0.8,"titleFont":"DejaVu Sans","labelFont":"DejaVu Sans","titleFontWeight":"normal","titleFontSize":23,"tickWidth":1},
 "axisY":{"tickSize":5,"labelPadding":3,"titlePadding":13},
 "axisX":{"labelPadding":4,"titlePadding":6}
}
}
